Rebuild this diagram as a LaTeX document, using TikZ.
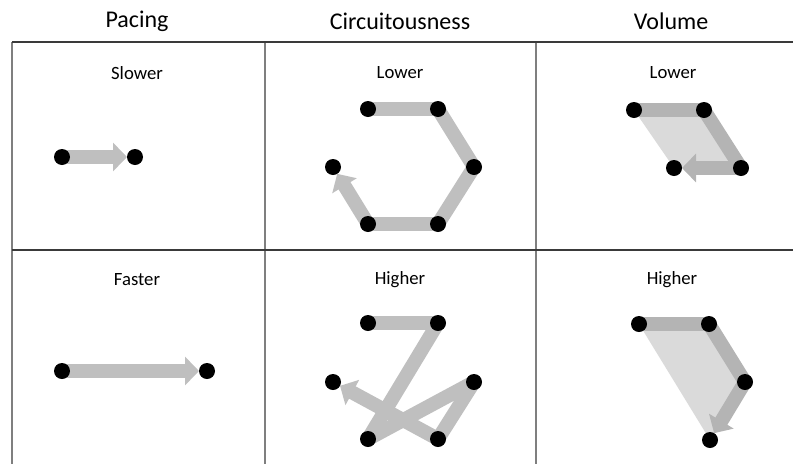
\documentclass[tikz,border=0pt]{standalone}
\usepackage{fontspec}
\setmainfont{Carlito}
\usetikzlibrary{arrows.meta,backgrounds}
\definecolor{pathgray}{HTML}{BFBFBF}
\definecolor{volgray}{HTML}{B4B4B4}
\definecolor{areagray}{HTML}{DADADA}
\definecolor{rulegray}{HTML}{7F7F7F}
\definecolor{ruledark}{HTML}{3A3A3A}
\tikzset{
  dot/.style={circle,fill=black,minimum size=16pt,inner sep=0pt},
  header/.style={font=\fontsize{24}{28}\selectfont,inner sep=0pt},
  level/.style={font=\fontsize{18.7}{22}\selectfont,inner sep=0pt},
  seg/.style={draw=pathgray,line width=14pt,line cap=round},
  vseg/.style={seg,draw=volgray},
  headed/.style={line cap=butt,-{Triangle[width=28pt,length=14pt]},shorten >=8pt},
  area/.style={fill=areagray,draw=none},
  vrule/.style={draw=rulegray,line width=1.2pt},
  hrule/.style={draw=ruledark,line width=2pt}
}
\begin{document}
\begin{tikzpicture}[x=1pt,y=-1pt]
\useasboundingbox (0,0) rectangle (793,464);

% table rules
\draw[vrule] (12,42) -- (12,464);
\draw[vrule] (265,42) -- (265,464);
\draw[vrule] (536,42) -- (536,464);
\draw[hrule] (12,42) -- (793,42);
\draw[hrule] (12,250) -- (793,250);

% column headers
\node[header] (hp) at (137,21) {Pacing};
\node[header] (hc) at (400,21) {Circuitousness};
\node[header] (hv) at (671,21) {Volume};

% row labels inside cells
\node[level] (l1) at (137,73) {Slower};
\node[level] (l2) at (400,73) {Lower};
\node[level] (l3) at (673,73) {Lower};
\node[level] (l4) at (137,280) {Faster};
\node[level] (l5) at (400,280) {Higher};
\node[level] (l6) at (672,280) {Higher};

% pacing, slower
\node[dot] (ps1) at (62,157) {};
\node[dot] (ps2) at (135,157) {};
% pacing, faster
\node[dot] (pf1) at (62,371) {};
\node[dot] (pf2) at (207,371) {};

% circuitousness, lower (hexagon)
\node[dot] (cl1) at (368,109) {};
\node[dot] (cl2) at (438,109) {};
\node[dot] (cl3) at (474,167) {};
\node[dot] (cl4) at (438,224) {};
\node[dot] (cl5) at (368,224) {};
\node[dot] (cl6) at (333,167) {};
% circuitousness, higher (zigzag)
\node[dot] (ch1) at (368,323) {};
\node[dot] (ch2) at (438,323) {};
\node[dot] (ch3) at (368,439) {};
\node[dot] (ch4) at (474,382) {};
\node[dot] (ch5) at (438,439) {};
\node[dot] (ch6) at (333,382) {};

% volume, lower
\node[dot] (vl1) at (634,110) {};
\node[dot] (vl2) at (704,110) {};
\node[dot] (vl3) at (741,168) {};
\node[dot] (vl4) at (674,168) {};
% volume, higher
\node[dot] (vh1) at (639,324) {};
\node[dot] (vh2) at (709,324) {};
\node[dot] (vh3) at (745,382) {};
\node[dot] (vh4) at (710,440) {};

\begin{pgfonlayer}{background}
  % pacing
  \draw[seg,headed] (ps1.center) -- (ps2.center);
  \draw[seg,headed] (pf1.center) -- (pf2.center);

  % circuitousness, lower
  \draw[seg] (cl1.center) -- (cl2.center);
  \draw[seg] (cl2.center) -- (cl3.center);
  \draw[seg] (cl3.center) -- (cl4.center);
  \draw[seg] (cl4.center) -- (cl5.center);
  \draw[seg,headed] (cl5.center) -- (cl6.center);

  % circuitousness, higher
  \draw[seg] (ch1.center) -- (ch2.center);
  \draw[seg] (ch2.center) -- (ch3.center);
  \draw[seg] (ch3.center) -- (ch4.center);
  \draw[seg] (ch4.center) -- (ch5.center);
  \draw[seg,headed] (ch5.center) -- (ch6.center);

  % volume, lower
  \fill[area] (vl1.center) -- (vl2.center) -- (vl3.center) -- (vl4.center) -- cycle;
  \draw[vseg] (vl1.center) -- (vl2.center);
  \draw[vseg] (vl2.center) -- (vl3.center);
  \draw[vseg,headed] (vl3.center) -- (vl4.center);

  % volume, higher
  \fill[area] (vh1.center) -- (vh2.center) -- (vh3.center) -- (vh4.center) -- cycle;
  \draw[vseg] (vh1.center) -- (vh2.center);
  \draw[vseg] (vh2.center) -- (vh3.center);
  \draw[vseg,headed] (vh3.center) -- (vh4.center);
\end{pgfonlayer}
\end{tikzpicture}
\end{document}
